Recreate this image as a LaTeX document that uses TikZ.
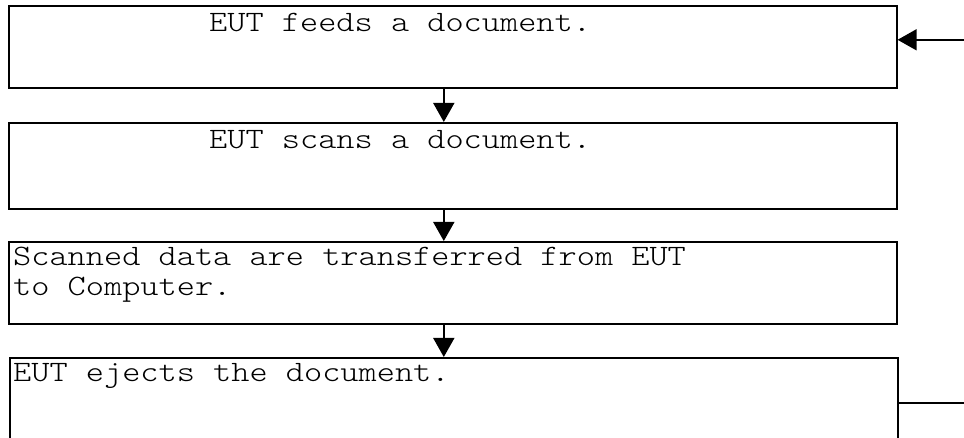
\documentclass[tikz,border=0pt]{standalone}
\usepackage{fontspec}
\setmonofont{Latin Modern Mono Light}[FakeStretch=1.17]
\usetikzlibrary{arrows.meta,positioning}
\begin{document}
\begin{tikzpicture}[x=1pt, y=-1pt,
            box/.style = {draw, rectangle, line width=1.6pt, anchor=north west,
                minimum width=888pt, inner sep=0pt},
            txt/.style = {anchor=base west, inner sep=0pt, align=left,
                font=\ttfamily\fontsize{29.6}{29.7}\selectfont},
            flow/.style = {line width=1.6pt, -{Triangle[length=19pt, width=21pt]}}]
            \useasboundingbox (0,0) rectangle (964,438);
            % boxes
            \node[box, minimum height=82pt] (feed) at (8,5) {};
            \node[box, minimum height=86pt] (scan) at (8,122) {};
            \node[box, minimum height=82pt] (transfer) at (8,241) {};
            \node[box, minimum height=85pt] (eject) at (9,357) {};
            % texts (base anchor sits on the last line)
            \node[txt] (feedtext) at (209,31.5) {EUT feeds a document.};
            \node[txt] (scantext) at (209,148.5) {EUT scans a document.};
            \node[txt] (transfertext) at (13,295.7) {Scanned data are transferred from EUT\\to Computer.};
            \node[txt] (ejecttext) at (13,381.5) {EUT ejects the document.};
            % arrows
            \draw[flow] ([xshift=-9pt]feed.south) -- ([xshift=-9pt]scan.north);
            \draw[flow] ([xshift=-9pt]scan.south) -- ([xshift=-9pt]transfer.north);
            \draw[flow] ([xshift=-9pt]transfer.south) -- ([xshift=-10pt]eject.north);
            \draw[flow] ([yshift=-2.5pt]eject.east) -- ++(95,0) |- ([yshift=7pt]feed.east);
\end{tikzpicture}
\end{document}
